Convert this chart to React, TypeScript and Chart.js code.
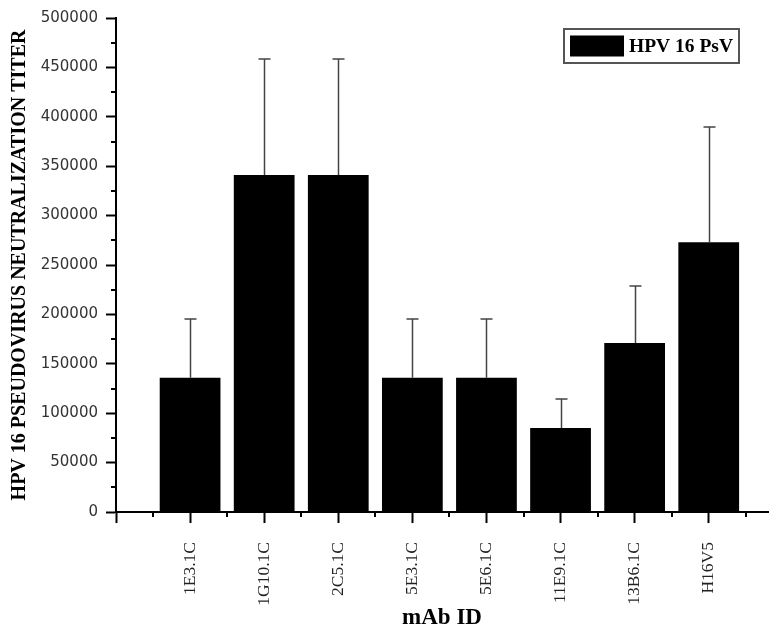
import React, { useEffect, useRef } from "react";
import { Chart, registerables } from "chart.js";

Chart.register(...registerables);

const categories = ["1E3.1C", "1G10.1C", "2C5.1C", "5E3.1C", "5E6.1C", "11E9.1C", "13B6.1C", "H16V5"];
const titerMeans = [136000, 341000, 341000, 136000, 136000, 85000, 171000, 273000];
const titerErrors = [59000, 118000, 118000, 59000, 59000, 29000, 58000, 117000];
const seriesLabel = "HPV 16 PsV";
const yMajorTicks = [0, 50000, 100000, 150000, 200000, 250000, 300000, 350000, 400000, 450000, 500000];
const yMinorTicks = [25000, 75000, 125000, 175000, 225000, 275000, 325000, 375000, 425000, 475000];
const xMajorTicks = [-1, 0, 1, 2, 3, 4, 5, 6, 7];
const xMinorTicks = [-0.5, 0.5, 1.5, 2.5, 3.5, 4.5, 5.5, 6.5, 7.5];

const minorTickPlugin = {
  id: "minorTicks",
  afterDraw(chart: any) {
    const { ctx, chartArea } = chart;
    const xs = chart.scales.x;
    const ys = chart.scales.y;
    ctx.save();
    ctx.strokeStyle = "#000";
    ctx.lineWidth = 2;
    ctx.beginPath();
    for (const v of yMinorTicks) {
      const py = Math.round(ys.getPixelForValue(v));
      ctx.moveTo(chartArea.left - 5, py);
      ctx.lineTo(chartArea.left, py);
    }
    for (const v of xMinorTicks) {
      const px = Math.round(xs.getPixelForValue(v));
      ctx.moveTo(px, chartArea.bottom);
      ctx.lineTo(px, chartArea.bottom + 5);
    }
    ctx.stroke();
    ctx.restore();
  },
};

const errorBarPlugin = {
  id: "errorBars",
  afterDatasetsDraw(chart: any) {
    const { ctx } = chart;
    const xs = chart.scales.x;
    const ys = chart.scales.y;
    ctx.save();
    ctx.strokeStyle = "#444";
    ctx.lineWidth = 1.5;
    ctx.beginPath();
    titerMeans.forEach((m, i) => {
      const px = Math.round(xs.getPixelForValue(i)) + 0.5;
      const p0 = ys.getPixelForValue(m);
      const p1 = Math.round(ys.getPixelForValue(m + titerErrors[i]));
      ctx.moveTo(px, p0);
      ctx.lineTo(px, p1);
      ctx.moveTo(px - 6, p1);
      ctx.lineTo(px + 6, p1);
    });
    ctx.stroke();
    ctx.restore();
  },
};

const boxLegendPlugin = {
  id: "boxLegend",
  afterDraw(chart: any) {
    const { ctx, chartArea } = chart;
    const ds = chart.data.datasets[0];
    ctx.save();
    ctx.font = "bold 19.5px 'Liberation Serif', serif";
    const tw = ctx.measureText(ds.label).width;
    const swW = 54;
    const swH = 21;
    const h = 34;
    const w = 6 + swW + 5 + tw + 6;
    const right = chartArea.right - 29;
    const left = right - w;
    const top = chartArea.top + 11;
    ctx.strokeStyle = "#555";
    ctx.lineWidth = 2;
    ctx.strokeRect(left, top, w, h);
    ctx.fillStyle = ds.backgroundColor;
    ctx.fillRect(left + 6, top + (h - swH) / 2, swW, swH);
    ctx.fillStyle = "#000";
    ctx.textBaseline = "middle";
    ctx.fillText(ds.label, left + 6 + swW + 5, top + h / 2 + 1);
    ctx.restore();
  },
};

export default function App() {
  const ref = useRef<HTMLCanvasElement>(null);
  useEffect(() => {
    if (!ref.current) return;
    const chart = new Chart(ref.current, {
      type: "bar",
      data: {
        datasets: [
          {
            label: seriesLabel,
            data: titerMeans.map((v, i) => ({ x: i, y: v })),
            backgroundColor: "#000",
            borderWidth: 0,
            barPercentage: 0.82,
            categoryPercentage: 1,
          },
        ],
      },
      options: {
        animation: false,
        responsive: false,
        layout: { padding: { left: 0, top: 18, right: 12, bottom: 0 } },
        plugins: { legend: { display: false }, tooltip: { enabled: false } },
        scales: {
          x: {
            type: "linear",
            min: -1,
            max: 7.8,
            offset: false,
            afterBuildTicks: (s: any) => {
              s.ticks = xMajorTicks.map((v) => ({ value: v }));
            },
            afterFit: (s: any) => {
              s.height = 126;
            },
            grid: {
              display: true,
              drawOnChartArea: false,
              drawTicks: true,
              tickLength: 11,
              tickWidth: 2,
              tickColor: "#000",
              offset: false,
            },
            border: { display: true, color: "#000", width: 2 },
            ticks: {
              autoSkip: false,
              minRotation: 90,
              maxRotation: 90,
              padding: 19,
              color: "#222",
              font: { family: "'Liberation Serif', serif", size: 17.5 },
              callback: (v: any) => (Number.isInteger(v) && v >= 0 ? categories[v] ?? "" : ""),
            },
            title: {
              display: true,
              text: "mAb ID",
              color: "#000",
              font: { family: "'Liberation Serif', serif", size: 23, weight: "bold" },
              padding: { top: 0, bottom: 6 },
            },
          },
          y: {
            min: 0,
            max: 500000,
            afterBuildTicks: (s: any) => {
              s.ticks = yMajorTicks.map((v) => ({ value: v }));
            },
            afterFit: (s: any) => {
              s.width = 116;
            },
            grid: {
              display: true,
              drawOnChartArea: false,
              drawTicks: true,
              tickLength: 10,
              tickWidth: 2,
              tickColor: "#000",
            },
            border: { display: true, color: "#000", width: 2 },
            ticks: {
              padding: 8,
              color: "#333",
              font: { family: "'DejaVu Sans', sans-serif", size: 15 },
              callback: (v: any) => String(v),
            },
            title: {
              display: true,
              text: "HPV 16 PSEUDOVIRUS NEUTRALIZATION TITER",
              color: "#000",
              font: { family: "'Liberation Serif', serif", size: 20, weight: "bold" },
              padding: { top: 8, bottom: 0 },
            },
          },
        },
      },
      plugins: [minorTickPlugin, errorBarPlugin, boxLegendPlugin],
    } as any);
    return () => chart.destroy();
  }, []);
  return (
    <div style={{ position: "absolute", left: 0, top: 0, width: 780, height: 638 }}>
      <canvas ref={ref} width={780} height={638} />
    </div>
  );
}
